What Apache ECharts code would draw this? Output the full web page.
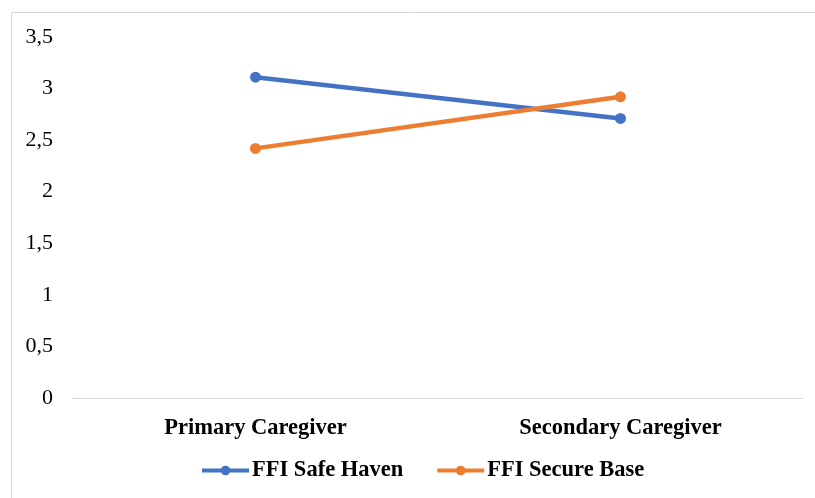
<!DOCTYPE html>
<html><head><meta charset="utf-8">
<script src="https://cdn.jsdelivr.net/npm/echarts@6/dist/echarts.min.js"></script>
<style>html,body{margin:0;padding:0;background:#fff}#c{width:815px;height:498px}</style>
</head><body><div id="c"></div>
<script>
var categories = ['Primary Caregiver', 'Secondary Caregiver'];
var safeHaven = [3.11, 2.71];
var secureBase = [2.42, 2.92];
var yTicks = [0, 0.5, 1, 1.5, 2, 2.5, 3, 3.5];

var chart = echarts.init(document.getElementById('c'), null, {renderer: 'canvas'});
var font = '"Liberation Serif", "Times New Roman", serif';
chart.setOption({
  animation: false,
  graphic: [{type: 'rect', shape: {x: 11.5, y: 12.5, width: 900, height: 700},
    style: {fill: 'none', stroke: '#d9d9d9', lineWidth: 1}, silent: true}],
  grid: {left: 73, right: 12, top: 37, bottom: 100},
  legend: {
    top: 459, left: 200, padding: 0, itemWidth: 47, itemHeight: 12, itemGap: 32,
    lineStyle: {width: 4},
    textStyle: {fontFamily: font, fontWeight: 'bold', fontSize: 22.5, color: '#000', padding: [0,0,0,-2]},
    data: ['FFI Safe Haven', 'FFI Secure Base']
  },
  xAxis: {
    type: 'category', data: categories,
    axisLine: {lineStyle: {color: '#d9d9d9', width: 1}},
    axisTick: {show: false},
    axisLabel: {fontFamily: font, fontWeight: 'bold', fontSize: 22.5, color: '#000', margin: 19}
  },
  yAxis: {
    type: 'value', min: 0, max: 3.5, interval: 0.5,
    splitLine: {show: false}, axisLine: {show: false}, axisTick: {show: false},
    axisLabel: {fontFamily: font, fontSize: 22, color: '#000', margin: 20,
      formatter: function (v) { return String(v).replace('.', ','); }}
  },
  series: [
    {name: 'FFI Safe Haven', type: 'line', data: safeHaven, symbol: 'circle', symbolSize: 11,
      lineStyle: {width: 4.5, color: '#4472C4'}, itemStyle: {color: '#4472C4'}},
    {name: 'FFI Secure Base', type: 'line', data: secureBase, symbol: 'circle', symbolSize: 11,
      lineStyle: {width: 4.5, color: '#ED7D31'}, itemStyle: {color: '#ED7D31'}}
  ]
});
</script></body></html>
